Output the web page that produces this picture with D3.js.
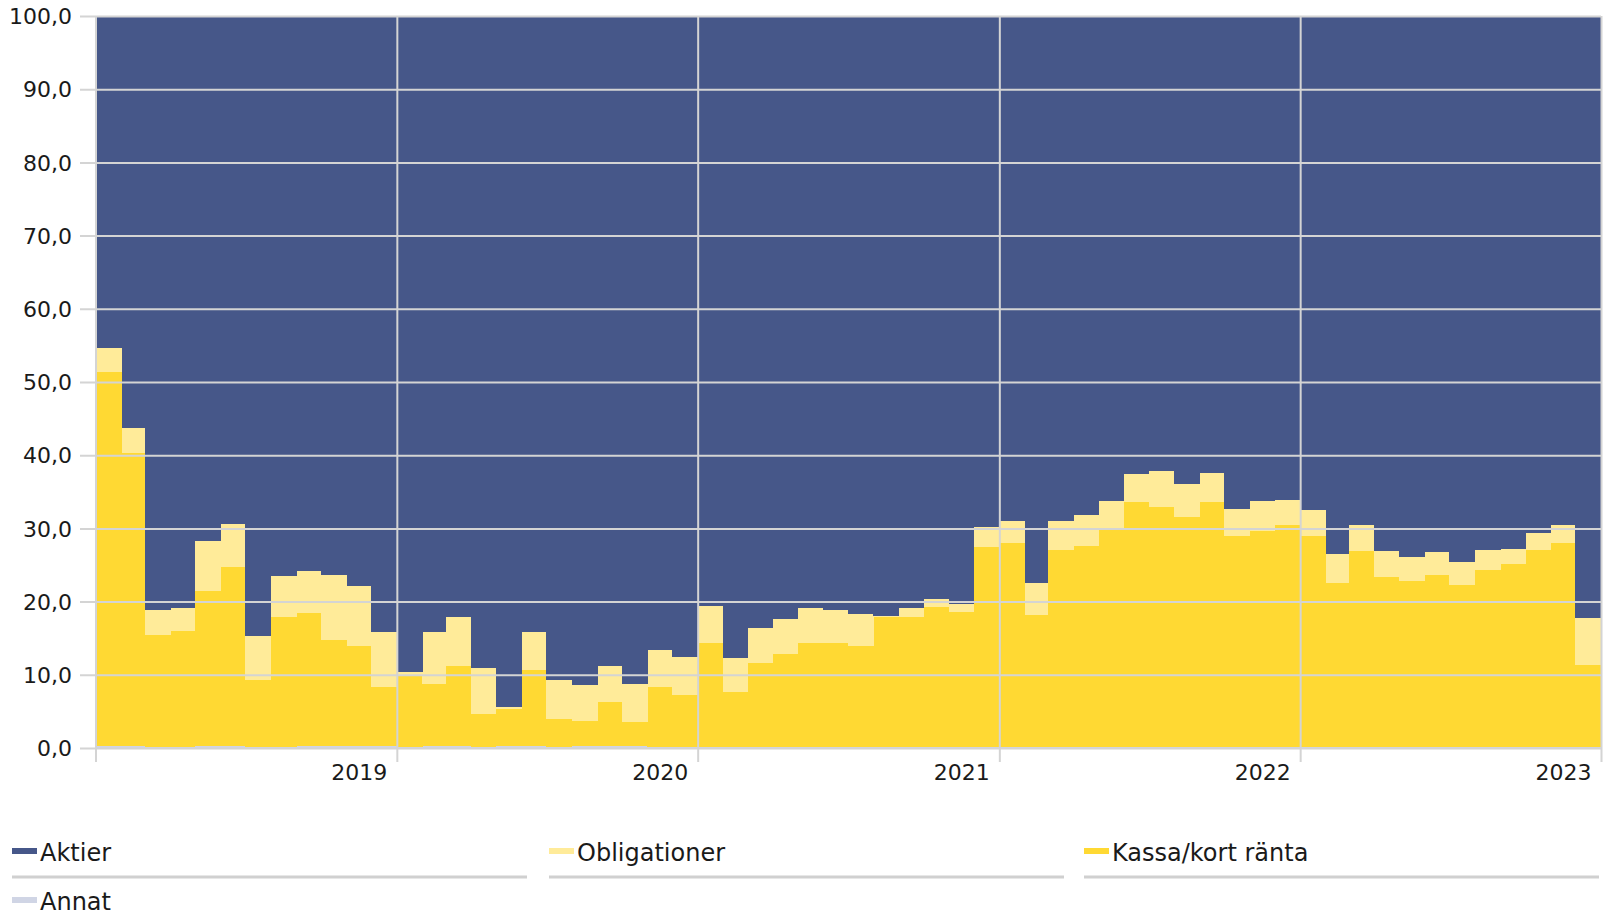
<!DOCTYPE html>
<html>
<head>
<meta charset="utf-8">
<script src="https://cdn.jsdelivr.net/npm/d3@7"></script>
<style>
  body { margin: 0; background: #fff; }
  text { font-family: "DejaVu Sans", Verdana, sans-serif; fill: #1a1a1a; }
</style>
</head>
<body>
<div id="chart"></div>
<script>
// monthly allocation (%), Jan 2018 .. Dec 2022
var months = d3.timeMonths(new Date(2018, 0, 1), new Date(2023, 0, 1));

var annat = [0.3,0.3,0.2,0.2,0.3,0.3,0.2,0.2,0.3,0.3,0.3,0.3,
  0.2,0.3,0.3,0.2,0.3,0.3,0.2,0.3,0.3,0.3,0.2,0.2,
  0.1,0.1,0.1,0.1,0.1,0.1,0.1,0.1,0.1,0.1,0.1,0.1,
  0.1,0.1,0.1,0.1,0.1,0.1,0.1,0.1,0.1,0.1,0.1,0.1,
  0.1,0.1,0.1,0.1,0.1,0.1,0.1,0.1,0.1,0.1,0.1,0.1];

var kassa = [51.1,40.0,15.2,15.8,21.2,24.4,9.1,17.7,18.2,14.5,13.7,8.0,
  9.8,8.4,10.9,4.4,5.0,10.4,3.8,3.4,6.0,3.2,8.2,7.0,
  14.3,7.5,11.5,12.8,14.2,14.2,13.8,17.8,17.8,19.2,18.5,27.4,
  27.9,18.1,26.9,27.5,29.9,33.5,32.8,31.5,33.5,28.8,29.6,30.3,
  28.9,22.4,26.8,23.3,22.7,23.6,22.2,24.2,25.1,26.9,27.9,11.3];

var obligationer = [3.3,3.4,3.5,3.1,6.8,5.9,6.0,5.6,5.7,8.9,8.1,7.6,
  0.4,7.1,6.7,6.3,0.3,5.2,5.3,4.9,4.9,5.3,5.0,5.3,
  5.0,4.7,4.8,4.7,4.8,4.6,4.4,0.2,1.2,1.1,1.1,2.7,
  3.0,4.4,4.0,4.2,3.8,3.9,5.0,4.4,4.0,3.8,4.0,3.5,
  3.5,4.0,3.6,3.5,3.3,3.1,3.1,2.7,2.0,2.4,2.4,6.3];

var aktier = [45.3,56.3,81.1,80.9,71.7,69.4,84.7,76.5,75.8,76.3,77.9,84.1,
  89.6,84.2,82.1,89.1,94.4,84.1,90.7,91.4,88.8,91.2,86.6,87.5,
  80.6,87.7,83.6,82.4,80.9,81.1,81.7,81.9,80.9,79.6,80.3,69.8,
  69.0,77.4,69.0,68.2,66.2,62.5,62.1,64.0,62.4,67.3,66.3,66.1,
  67.5,73.5,69.5,73.1,73.9,73.2,74.6,73.0,72.8,70.6,69.6,82.3];

var yTicks = [0, 10, 20, 30, 40, 50, 60, 70, 80, 90, 100];
var yearTicks = [2019, 2020, 2021, 2022, 2023];

var legendItems = [
  {key: "aktier", label: "Aktier"},
  {key: "obligationer", label: "Obligationer"},
  {key: "kassa", label: "Kassa/kort ränta"},
  {key: "annat", label: "Annat"}
];

var colors = {
  aktier: "#465789",
  obligationer: "#FFEB99",
  kassa: "#FFD933",
  annat: "#D0D5E5"
};

var W = 1603, H = 913;
var plotLeft = 96, plotRight = 1601, plotTop = 16, plotBottom = 748;

var rows = months.map(function(m, i) {
  return {date: m, annat: annat[i], kassa: kassa[i], obligationer: obligationer[i], aktier: aktier[i]};
});

var x = d3.scaleTime()
  .domain([new Date(2018, 0, 1), new Date(2023, 0, 1)])
  .range([plotLeft, plotRight]);
var y = d3.scaleLinear().domain([0, 100]).range([plotBottom, plotTop]);

var svg = d3.select("#chart").append("svg")
  .attr("width", W)
  .attr("height", H);

// stacked bars, bottom to top
var stack = d3.stack().keys(["annat", "kassa", "obligationer", "aktier"]);
var series = stack(rows);

svg.append("g")
  .selectAll("g")
  .data(series)
  .enter()
  .append("g")
  .attr("fill", function(s) { return colors[s.key]; })
  .selectAll("rect")
  .data(function(s) { return s; })
  .enter()
  .append("rect")
  .attr("x", function(d) { return x(d.data.date); })
  .attr("width", function(d) { return x(d3.timeMonth.offset(d.data.date, 1)) - x(d.data.date) + 0.5; })
  .attr("y", function(d) { return y(d[1]); })
  .attr("height", function(d) { return Math.max(0, y(d[0]) - y(d[1])); })
  .attr("shape-rendering", "crispEdges");

// horizontal grid + y axis
var gridW = plotRight - plotLeft + 16;
var yAxis = d3.axisLeft(y)
  .tickValues(yTicks)
  .tickSize(0)
  .tickFormat(function(d) { return d3.format(".1f")(d).replace(".", ","); });

var gy = svg.append("g")
  .attr("transform", "translate(" + plotRight + ",0)")
  .call(yAxis);
gy.select(".domain").remove();
gy.selectAll(".tick line")
  .attr("x1", 0)
  .attr("x2", -gridW)
  .attr("stroke", "#d4d4d4")
  .attr("stroke-width", 2);
gy.selectAll(".tick text")
  .attr("x", -(plotRight - 72))
  .attr("dy", "0.35em")
  .attr("font-size", 22)
  .attr("text-anchor", "end");

// vertical grid + x axis
var xAxis = d3.axisBottom(x)
  .tickValues(yearTicks.map(function(yr) { return new Date(yr, 0, 1); }))
  .tickSize(0)
  .tickFormat(d3.timeFormat("%Y"));

var gx = svg.append("g")
  .attr("transform", "translate(0," + plotBottom + ")")
  .call(xAxis);
gx.select(".domain").remove();
gx.selectAll(".tick line")
  .attr("y1", 14)
  .attr("y2", -(plotBottom - plotTop))
  .attr("stroke", "#d4d4d4")
  .attr("stroke-width", 2);
gx.selectAll(".tick text")
  .attr("y", 32)
  .attr("x", -10)
  .attr("dy", 0)
  .attr("font-size", 22)
  .attr("text-anchor", "end");

// left edge of plot
svg.append("line")
  .attr("x1", plotLeft).attr("x2", plotLeft)
  .attr("y1", plotTop).attr("y2", plotBottom + 14)
  .attr("stroke", "#d4d4d4")
  .attr("stroke-width", 2);

// legend
var colX = [12, 549, 1084];
var legend = svg.append("g")
  .selectAll("g")
  .data(legendItems)
  .enter()
  .append("g")
  .attr("transform", function(d, i) {
    return "translate(" + colX[i % 3] + "," + (Math.floor(i / 3) * 49) + ")";
  });

legend.append("rect")
  .attr("x", 0)
  .attr("y", 848)
  .attr("width", 25)
  .attr("height", 6)
  .attr("fill", function(d) { return colors[d.key]; });

legend.append("text")
  .attr("x", 28)
  .attr("y", 861)
  .attr("font-size", 24)
  .text(function(d) { return d.label; });

legend.filter(function(d, i) { return i < 3; })
  .append("line")
  .attr("x1", 0).attr("x2", 515)
  .attr("y1", 877).attr("y2", 877)
  .attr("stroke", "#d0d0d0")
  .attr("stroke-width", 3);
</script>
</body>
</html>
